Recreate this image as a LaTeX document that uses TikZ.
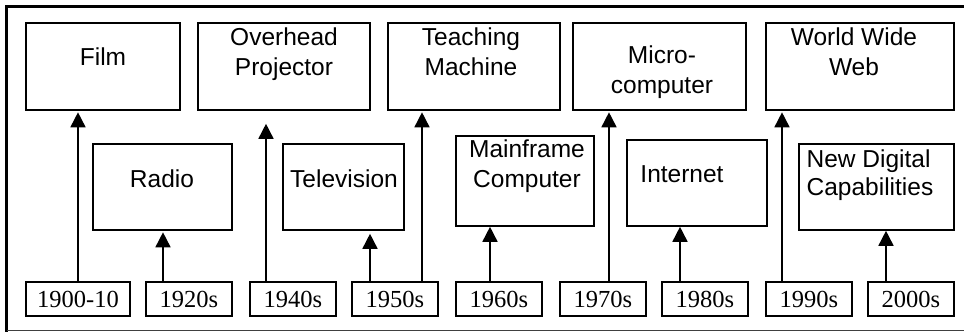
\documentclass[tikz,border=0pt]{standalone}
\usepackage{fontspec}
\setmainfont{Liberation Serif}
\newfontfamily\labelfont{Liberation Sans}
\usetikzlibrary{arrows.meta}

\begin{document}
\begin{tikzpicture}[x=1pt,y=-1pt,
  box/.style={draw, line width=1.6pt, inner sep=0pt},
  yearbox/.style={draw, line width=1.6pt, inner sep=0pt, minimum width=86pt,
    minimum height=34pt, font=\fontsize{24.5}{28}\selectfont},
  caption/.style={inner sep=0pt, anchor=base, align=center,
    font=\labelfont\fontsize{24.5}{30}\selectfont},
  arr/.style={line width=1.6pt, -{Triangle[width=15pt,length=15pt]}, shorten >=1.5pt}]

\useasboundingbox (0,0) rectangle (964,332);

% outer frame
\draw[line width=3pt] (6.5,332) -- (6.5,6.5) -- (964,6.5);
\draw[line width=1pt, black!75] (6.5,330.8) -- (964,330.8);

% technology boxes, upper row
\node[box, minimum width=154pt, minimum height=87pt] (film)     at (103,66.5)   {};
\node[box, minimum width=172pt, minimum height=87pt] (overhead) at (284,66.5)   {};
\node[box, minimum width=172pt, minimum height=87pt] (teaching) at (474,66.5)   {};
\node[box, minimum width=173pt, minimum height=87pt] (micro)    at (659.5,66.5) {};
\node[box, minimum width=188pt, minimum height=87pt] (www)      at (860,66.5)   {};

% technology boxes, middle row
\node[box, minimum width=139pt, minimum height=86pt] (radio)     at (162.5,187) {};
\node[box, minimum width=121pt, minimum height=86pt] (tv)        at (343.5,187) {};
\node[box, minimum width=138pt, minimum height=90pt] (mainframe) at (525,181)   {};
\node[box, minimum width=140pt, minimum height=86pt] (internet)  at (697,183)   {};
\node[box, minimum width=155pt, minimum height=86pt] (digital)   at (876.5,187) {};

% box captions (base anchor sits on the last line)
\node[caption] (tfilm)      at (103,65)  {Film};
\node[caption] (toverhead)  at (284,75)  {Overhead\\Projector};
\node[caption] (tteaching)  at (471,75)  {Teaching\\Machine};
\node[caption] (tmicro)     at (662,93)  {Micro-\\computer};
\node[caption] (twww)       at (854,75)  {World Wide\\Web};
\node[caption] (tradio)     at (162,187) {Radio};
\node[caption] (ttv)        at (344,187) {Television};
\node[caption] (tmainframe) at (527,187) {Mainframe\\Computer};
\node[caption] (tinternet)  at (682,182) {Internet};
\node[caption, align=left, font=\labelfont\fontsize{24.5}{28}\selectfont]
  (tdigital) at (870,195) {New Digital\\Capabilities};

% decade boxes
\node[yearbox, minimum width=104pt] (y1900) at (78,299)  {1900-10};
\node[yearbox] (y1920) at (189,299) {1920s};
\node[yearbox] (y1940) at (293,299) {1940s};
\node[yearbox] (y1950) at (395,299) {1950s};
\node[yearbox] (y1960) at (499,299) {1960s};
\node[yearbox] (y1970) at (603,299) {1970s};
\node[yearbox] (y1980) at (705,299) {1980s};
\node[yearbox] (y1990) at (809,299) {1990s};
\node[yearbox] (y2000) at (911,299) {2000s};

% arrows from decades to technologies
\draw[arr] (y1900.north) coordinate (s1900) -- (s1900 |- film.south);
\draw[arr] ([xshift=-26pt]y1920.north) coordinate (s1920) -- (s1920 |- radio.south);
\draw[arr, shorten >=13pt] ([xshift=-27pt]y1940.north) coordinate (s1940) -- (s1940 |- overhead.south);
\draw[arr, shorten >=3pt] ([xshift=-25pt]y1950.north) coordinate (s1950a) -- (s1950a |- tv.south);
\draw[arr] ([xshift=27pt]y1950.north) coordinate (s1950b) -- (s1950b |- teaching.south);
\draw[arr, shorten >=0pt] ([xshift=-9pt]y1960.north) coordinate (s1960) -- (s1960 |- mainframe.south);
\draw[arr] ([xshift=6pt]y1970.north) coordinate (s1970) -- (s1970 |- micro.south);
\draw[arr, shorten >=0pt] ([xshift=-25pt]y1980.north) coordinate (s1980) -- (s1980 |- internet.south);
\draw[arr] ([xshift=-27pt]y1990.north) coordinate (s1990) -- (s1990 |- www.south);
\draw[arr, shorten >=0pt] ([xshift=-25pt]y2000.north) coordinate (s2000) -- (s2000 |- digital.south);
\end{tikzpicture}
\end{document}
